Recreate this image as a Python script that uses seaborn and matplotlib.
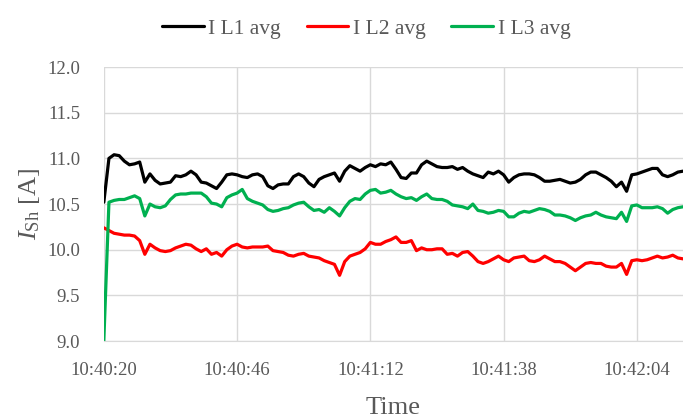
import numpy as np
import pandas as pd
import matplotlib
matplotlib.use("Agg")
import matplotlib.pyplot as plt
import seaborn as sns

# one sample per second starting at 10:40:20
start_time = "2024-01-01 10:40:20"

i_l1 = [10.52, 11.00, 11.04, 11.03, 10.97, 10.93, 10.94, 10.96, 10.74, 10.83,
        10.76, 10.72, 10.73, 10.74, 10.81, 10.80, 10.82, 10.86, 10.82, 10.74,
        10.73, 10.70, 10.67, 10.74, 10.82, 10.83, 10.82, 10.80, 10.79, 10.82,
        10.83, 10.80, 10.70, 10.67, 10.71, 10.72, 10.72, 10.80, 10.83, 10.80,
        10.73, 10.69, 10.77, 10.80, 10.82, 10.84, 10.75, 10.86, 10.92, 10.89,
        10.86, 10.90, 10.93, 10.91, 10.94, 10.93, 10.96, 10.88, 10.79, 10.78,
        10.84, 10.84, 10.93, 10.97, 10.94, 10.91, 10.90, 10.90, 10.91, 10.88,
        10.90, 10.86, 10.83, 10.81, 10.79, 10.85, 10.83, 10.86, 10.82, 10.74,
        10.79, 10.82, 10.83, 10.83, 10.82, 10.79, 10.75, 10.75, 10.76, 10.77,
        10.75, 10.73, 10.74, 10.77, 10.82, 10.85, 10.85, 10.82, 10.79, 10.75,
        10.69, 10.74, 10.64, 10.82, 10.83, 10.85, 10.87, 10.89, 10.89, 10.82,
        10.80, 10.82, 10.85, 10.86]

i_l2 = [10.24, 10.21, 10.18, 10.17, 10.16, 10.16, 10.15, 10.10, 9.95, 10.06,
        10.02, 9.99, 9.98, 9.99, 10.02, 10.04, 10.06, 10.05, 10.01, 9.98,
        10.01, 9.95, 9.97, 9.93, 10.00, 10.04, 10.06, 10.03, 10.02, 10.03,
        10.03, 10.03, 10.04, 9.99, 9.98, 9.97, 9.94, 9.93, 9.95, 9.96,
        9.93, 9.92, 9.91, 9.88, 9.86, 9.84, 9.72, 9.87, 9.93, 9.95,
        9.97, 10.01, 10.08, 10.06, 10.06, 10.09, 10.11, 10.14, 10.08, 10.08,
        10.10, 9.99, 10.02, 10.00, 10.00, 10.01, 10.01, 9.95, 9.96, 9.93,
        9.97, 9.98, 9.93, 9.87, 9.85, 9.87, 9.90, 9.93, 9.89, 9.87,
        9.91, 9.92, 9.93, 9.88, 9.87, 9.89, 9.93, 9.90, 9.87, 9.87,
        9.85, 9.81, 9.77, 9.81, 9.85, 9.86, 9.85, 9.85, 9.82, 9.81,
        9.81, 9.85, 9.73, 9.88, 9.89, 9.88, 9.89, 9.91, 9.93, 9.91,
        9.92, 9.94, 9.91, 9.90]

i_l3 = [9.00, 10.52, 10.54, 10.55, 10.55, 10.57, 10.59, 10.56, 10.37, 10.50,
        10.47, 10.46, 10.48, 10.55, 10.60, 10.61, 10.61, 10.62, 10.62, 10.62,
        10.58, 10.51, 10.50, 10.47, 10.57, 10.60, 10.62, 10.66, 10.56, 10.53,
        10.51, 10.49, 10.44, 10.42, 10.43, 10.45, 10.46, 10.49, 10.51, 10.52,
        10.47, 10.43, 10.44, 10.41, 10.46, 10.42, 10.37, 10.46, 10.53, 10.56,
        10.55, 10.61, 10.65, 10.66, 10.62, 10.63, 10.65, 10.61, 10.58, 10.56,
        10.57, 10.54, 10.58, 10.61, 10.56, 10.55, 10.55, 10.53, 10.49, 10.48,
        10.47, 10.45, 10.50, 10.43, 10.42, 10.40, 10.41, 10.43, 10.42, 10.36,
        10.36, 10.40, 10.42, 10.41, 10.43, 10.45, 10.44, 10.42, 10.38, 10.38,
        10.37, 10.35, 10.32, 10.35, 10.37, 10.38, 10.41, 10.38, 10.36, 10.35,
        10.34, 10.41, 10.31, 10.48, 10.49, 10.46, 10.46, 10.46, 10.47, 10.45,
        10.40, 10.44, 10.46, 10.47]

series_names = ["I L1 avg", "I L2 avg", "I L3 avg"]
tick_labels = ["10:40:20", "10:40:46", "10:41:12", "10:41:38", "10:42:04"]

times = pd.date_range(start_time, periods=len(i_l1), freq="1s")
df = pd.DataFrame({"Time": times, "I L1 avg": i_l1, "I L2 avg": i_l2, "I L3 avg": i_l3})
df_long = df.melt(id_vars="Time", var_name="series", value_name="current")

sns.set_style("white")
plt.rcParams["font.family"] = ["Liberation Serif", "DejaVu Serif"]
plt.rcParams["mathtext.fontset"] = "custom"
plt.rcParams["mathtext.rm"] = "Liberation Serif"
plt.rcParams["mathtext.it"] = "Liberation Serif:italic"

grey = "#595959"
fig = plt.figure(figsize=(6.83, 4.19), dpi=100)
ax = fig.add_axes([0.152, 0.186, 0.848, 0.654])

sns.lineplot(data=df_long, x="Time", y="current", hue="series", hue_order=series_names,
             palette=["#000000", "#ff0000", "#00b050"], linewidth=2.3, ax=ax)

ax.set_ylim(9.0, 12.0)
ax.set_yticks(np.arange(9.0, 12.01, 0.5))
ax.yaxis.set_major_formatter(matplotlib.ticker.FormatStrFormatter("%.1f"))
ax.set_xlim(times[0], times[-1])
ax.set_xticks([pd.Timestamp("2024-01-01 " + t) for t in tick_labels])
ax.set_xticklabels(tick_labels)

ax.grid(True, color="#d9d9d9", linewidth=1.0)
ax.set_axisbelow(True)
for side in ["top", "right", "left"]:
    ax.spines[side].set_visible(False)
ax.spines["bottom"].set_color("#d9d9d9")
ax.tick_params(axis="both", length=0, labelsize=13.5, labelcolor=grey)
ax.tick_params(axis="x", pad=15)
ax.tick_params(axis="y", pad=17)

ax.set_xlabel("Time", fontsize=19, color=grey, labelpad=13)
ax.set_ylabel(r"$I_{\mathrm{Sh}}$ [A]", fontsize=19, color=grey, labelpad=4)

handles, labels = ax.get_legend_handles_labels()
ax.legend(handles, labels, loc="center", bbox_to_anchor=(0.536, 0.932),
          bbox_transform=fig.transFigure, ncol=3, frameon=False, fontsize=15.5,
          handlelength=1.95, handletextpad=0.2, columnspacing=1.2, labelcolor=grey)

plt.savefig("out.png", dpi=100)
plt.close()
